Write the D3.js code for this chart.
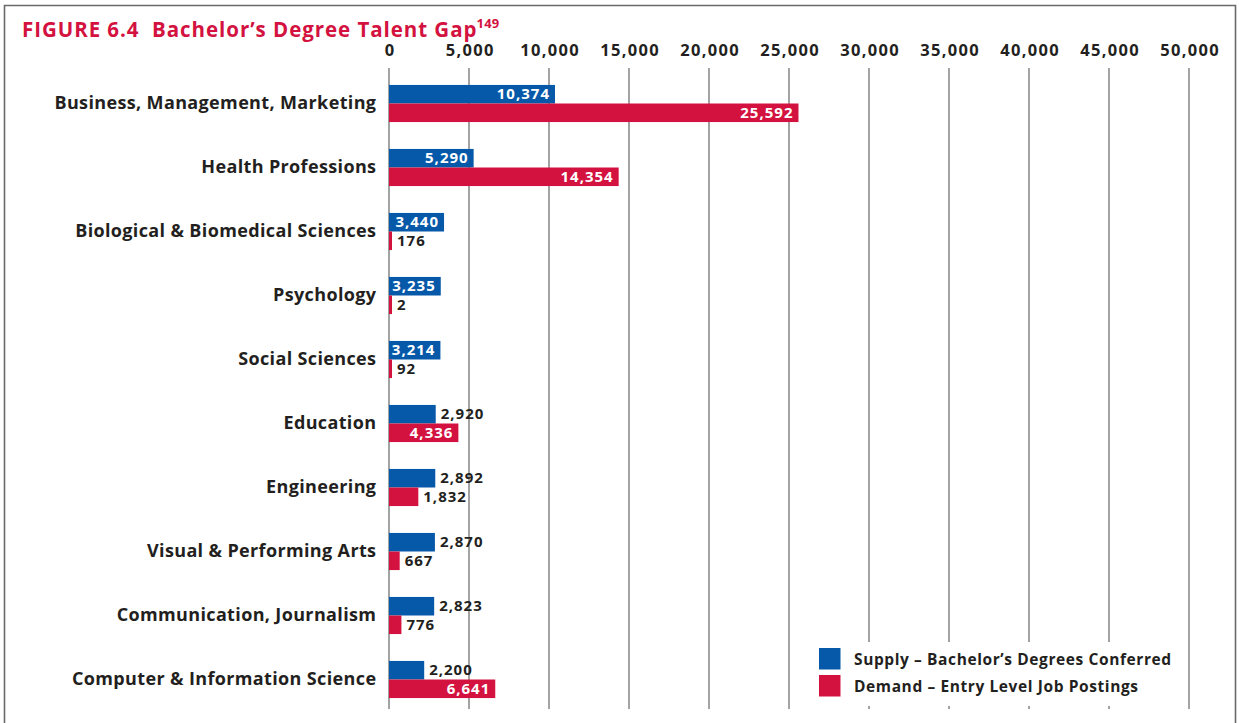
<!DOCTYPE html>
<html><head><meta charset="utf-8">
<script src="https://cdn.jsdelivr.net/npm/d3@7"></script>
<style>
body{margin:0;background:#fff;}
svg{display:block;font-family:"Open Sans",sans-serif;}
</style></head>
<body><svg id="chart" width="1239" height="723"></svg>
<script>
const categories = ["Business, Management, Marketing","Health Professions","Biological & Biomedical Sciences","Psychology","Social Sciences","Education","Engineering","Visual & Performing Arts","Communication, Journalism","Computer & Information Science"];
const supply = [10374,5290,3440,3235,3214,2920,2892,2870,2823,2200];
const demand = [25592,14354,176,2,92,4336,1832,667,776,6641];
const tickValues = [0,5000,10000,15000,20000,25000,30000,35000,40000,45000,50000];
const seriesNames = ["Supply – Bachelor’s Degrees Conferred","Demand – Entry Level Job Postings"];

const BLUE="#0659a8", RED="#d3123f", TXT="#231f20", GRID="#9a9a9a";
const svg=d3.select("#chart");

// frame
svg.append("path").attr("d","M4.5,730 V5.5 H1235.5 V730").attr("fill","none").attr("stroke","#6a6a6a").attr("stroke-width",1.6);

// title
const title=svg.append("text").attr("x",22).attr("y",37).attr("fill","#d3123f").attr("font-weight",700).attr("font-size",20.5).attr("letter-spacing",0.95);
title.append("tspan").text("FIGURE 6.4\u00a0\u00a0Bachelor’s Degree Talent Gap");
title.append("tspan").attr("font-size",13).attr("letter-spacing",0.3).attr("dy",-9).attr("dx",-1).text("149");

const x=d3.scaleLinear().domain([0,50000]).range([389,1189]);
const y=d3.scaleBand().domain(categories).range([71.5,711.5]).paddingInner(0.42).paddingOuter(0.21);

// gridlines
svg.append("g").selectAll("line").data(tickValues).join("line")
  .attr("x1",d=>x(d)).attr("x2",d=>x(d)).attr("y1",68).attr("y2",709)
  .attr("stroke",GRID).attr("stroke-width",1.8);

// top axis labels
const axis=d3.axisTop(x).tickValues(tickValues).tickSize(0).tickPadding(0).tickFormat(d3.format(","));
const ag=svg.append("g").attr("transform","translate(0,56)").call(axis);
ag.select(".domain").remove();
ag.selectAll("text").attr("font-size",16.5).attr("font-weight",700).attr("fill",TXT)
  .attr("font-family","'Open Sans',sans-serif").attr("letter-spacing",1.3).attr("dx",0.65).attr("dy",0);

// category labels
svg.append("g").selectAll("text").data(categories).join("text")
  .attr("x",376.4).attr("y",d=>y(d)+y.bandwidth()/2).attr("dy","0.3em")
  .attr("text-anchor","end").attr("font-size",18).attr("font-weight",700).attr("letter-spacing",0.36).attr("fill",TXT).text(d=>d);

const inner=d3.scaleBand().domain([0,1]).range([0,y.bandwidth()]);
const series=[supply,demand], colors=[BLUE,RED];
const fmt=d3.format(",");
series.forEach((vals,si)=>{
  const g=svg.append("g");
  const rows=categories.map((c,i)=>({c,v:vals[i]}));
  g.selectAll("rect").data(rows).join("rect")
    .attr("x",x(0)).attr("y",d=>y(d.c)+inner(si)).attr("height",inner.bandwidth())
    .attr("width",d=>Math.max(x(d.v)-x(0),3)).attr("fill",colors[si]);
  g.selectAll("text").data(rows).join("text")
    .attr("y",d=>y(d.c)+inner(si)+inner.bandwidth()/2).attr("dy","0.35em")
    .attr("font-size",15).attr("font-weight",700).attr("letter-spacing",1.0)
    .each(function(d){
      const inside=d.v>=3000;
      d3.select(this).attr("x",inside? x(d.v)-5 : Math.max(x(d.v),x(0)+3)+5)
        .attr("text-anchor",inside?"end":"start").attr("fill",inside?"#fff":TXT).text(fmt(d.v));
    });
});

// legend
const lg=svg.append("g");
lg.append("rect").attr("x",805).attr("y",642).attr("width",375).attr("height",64).attr("fill","#fff");
seriesNames.forEach((n,i)=>{
  lg.append("rect").attr("x",819).attr("y",648+i*27).attr("width",21.5).attr("height",21.5).attr("fill",colors[i]);
  lg.append("text").attr("x",854).attr("y",659+i*27).attr("dy","0.36em").attr("font-size",15.5).attr("font-weight",700).attr("letter-spacing",0.6).attr("fill",TXT).text(n);
});
</script></body></html>
